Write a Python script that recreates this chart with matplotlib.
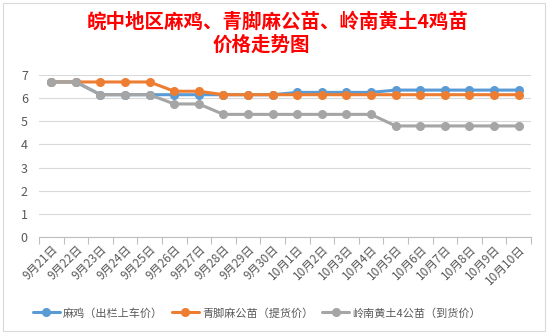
import numpy as np
import matplotlib.pyplot as plt
from matplotlib.patches import Rectangle

plt.rcParams['font.family'] = ['Noto Sans CJK SC', 'DejaVu Sans']
plt.rcParams['figure.dpi'] = 100

# Data
dates = ['9月21日', '9月22日', '9月23日', '9月24日', '9月25日', '9月26日', '9月27日',
         '9月28日', '9月29日', '9月30日', '10月1日', '10月2日', '10月3日', '10月4日',
         '10月5日', '10月6日', '10月7日', '10月8日', '10月9日', '10月10日']
ma_ji = [6.7, 6.7, 6.15, 6.15, 6.15, 6.15, 6.15, 6.15, 6.15, 6.15,
         6.25, 6.25, 6.25, 6.25, 6.35, 6.35, 6.35, 6.35, 6.35, 6.35]
qing_jiao = [6.7, 6.7, 6.7, 6.7, 6.7, 6.3, 6.3, 6.15, 6.15, 6.15,
             6.15, 6.15, 6.15, 6.15, 6.15, 6.15, 6.15, 6.15, 6.15, 6.15]
ling_nan = [6.7, 6.7, 6.15, 6.15, 6.15, 5.75, 5.75, 5.3, 5.3, 5.3,
            5.3, 5.3, 5.3, 5.3, 4.8, 4.8, 4.8, 4.8, 4.8, 4.8]

series_names = ['麻鸡（出栏上车价）', '青脚麻公苗（提货价）', '岭南黄土4公苗（到货价）']
series_values = [ma_ji, qing_jiao, ling_nan]
colors = ['#5B9BD5', '#ED7D31', '#A5A5A5']

fig = plt.figure(figsize=(5.49, 3.35))
ax = fig.add_axes([0.071, 0.2925, 0.896, 0.4835])

x = np.arange(len(dates))
for name, vals, c in zip(series_names, series_values, colors):
    ax.plot(x, vals, color=c, lw=2.2, marker='o', markersize=5.5,
            solid_capstyle='round', label=name)

ax.set_xlim(-0.5, len(dates) - 0.5)
ax.set_ylim(0, 7)
ax.set_yticks(range(0, 8))
ax.grid(axis='y', color='#D9D9D9', lw=0.8)
ax.set_axisbelow(True)
for s in ['left', 'right', 'top']:
    ax.spines[s].set_visible(False)
ax.spines['bottom'].set_color('#BFBFBF')
ax.spines['bottom'].set_linewidth(0.8)

# ticks between categories, labels at categories
ax.set_xticks(np.arange(-0.5, len(dates), 1.0))
ax.set_xticklabels([])
ax.set_xticks(x, minor=True)
ax.set_xticklabels(dates, minor=True, rotation=45, ha='right', va='top',
                   rotation_mode='anchor', fontsize=8.5, color='#595959')
ax.tick_params(axis='x', which='major', length=5, color='#BFBFBF', width=0.8)
ax.tick_params(axis='x', which='minor', length=0, pad=4)
ax.tick_params(axis='y', length=0, labelsize=9, labelcolor='#595959', pad=8)

fig.text(0.505, 0.935, '皖中地区麻鸡、青脚麻公苗、岭南黄土4鸡苗', color='#FF0000',
         fontsize=14, fontweight='bold', ha='center', va='center')
fig.text(0.476, 0.865, '价格走势图', color='#FF0000',
         fontsize=14, fontweight='bold', ha='center', va='center')

fig.legend(loc='center', bbox_to_anchor=(0.468, 1 - 313 / 335), ncol=3,
           frameon=False, fontsize=8, labelcolor='#595959', handlelength=2.4,
           handletextpad=0.3, columnspacing=0.8)

# chart area border
fig.patches.append(Rectangle((0.006, 0.012), 0.986, 0.98, transform=fig.transFigure,
                             fill=False, edgecolor='#D9D9D9', lw=0.8))

fig.savefig('out.png', dpi=100, facecolor='white')
